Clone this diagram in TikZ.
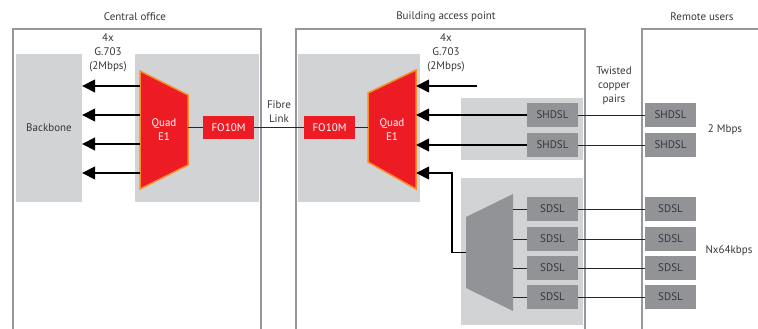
\documentclass[tikz,border=0pt]{standalone}
\usepackage{fontspec}
\setmainfont{PT Sans}
\usetikzlibrary{positioning,arrows.meta}

\definecolor{panelgray}{RGB}{210,211,213}
\definecolor{framegray}{RGB}{150,151,156}
\definecolor{boxgray}{RGB}{146,147,151}
\definecolor{textgray}{RGB}{55,55,58}
\definecolor{e1red}{RGB}{237,28,36}
\definecolor{e1orange}{RGB}{247,140,40}

\begin{document}
\begin{tikzpicture}[
    x=1pt, y=-1pt,
    font=\fontsize{11}{14}\selectfont,
 frame/.style = {draw=framegray, line width=2pt},
 panel/.style = {fill=panelgray},
mylabel/.style = {align=center, text=textgray, inner sep=0pt},
redbox/.style = {fill=e1red, text=white, inner sep=0pt,
        minimum width=51pt, minimum height=23pt},
dslbox/.style = {fill=boxgray, text=textgray, inner sep=0pt,
        minimum width=51pt, minimum height=24pt},
  quad/.style = {fill=e1red, draw=e1orange, line width=1.5pt},
quadtext/.style = {align=center, text=white, inner sep=0pt},
  wire/.style = {line width=1pt, draw=black!85},
 arrow/.style = {line width=1.5pt, -{Triangle[length=13pt,width=13pt]}}
                    ]
\useasboundingbox (0,0) rectangle (758,329);
% titles
\node (co)  [mylabel] at (135,17) {Central office};
\node (bap) [mylabel] at (446,17) {Building access point};
\node (ru)  [mylabel] at (702,17) {Remote users};
% the three sites
\draw[frame] (13,329) |- (261,29) -- (261,329);
\draw[frame] (296,329) |- (585,29) -- (585,329);
\draw[frame] (642,329) |- (760,29);
% grey panels
\node (bb) [panel, minimum width=66pt, minimum height=148pt, text=textgray]
        at (49,128) {Backbone};
\fill[panel] (135,54) rectangle (259,202);
\fill[panel] (298,54) rectangle (420,202);
\fill[panel] (461,98) rectangle (583,160);
\fill[panel] (461,178) rectangle (583,325);
% the two Quad E1 multiplexers
\filldraw[quad] (140,71) -- (188,95) -- (188,165) -- (140,189) -- cycle;
\node (qa) [quadtext, minimum width=48pt, minimum height=118pt]
        at (164,130) {Quad\\E1};
\filldraw[quad] (368,93) -- (416,70) -- (416,189) -- (368,162) -- cycle;
\node (qb) [quadtext, minimum width=48pt, minimum height=119pt]
        at (392,129.5) {Quad\\E1};
% fibre modems
\node (fa) [redbox] at (228.5,127.5) {FO10M};
\node (fb) [redbox] at (329.5,127.5) {FO10M};
\draw[wire] (qa.east |- fa) -- (fa);
\draw[wire] (fb) -- (qb.west |- fb);
\draw[wire] (fa) -- (fb) node[mylabel, midway, above=5pt] {Fibre\\Link};
% G.703 lines to the backbone
\node (ga) [mylabel] at (108,53) {4x\\G.703\\(2Mbps)};
\foreach \y in {86,115,144,173}
    \draw[arrow] (qa.west |- 0,\y) -- (bb.east |- 0,\y);
% SHDSL links
\node (gb) [mylabel] at (446,53) {4x\\G.703\\(2Mbps)};
\node (hb1) [dslbox] at (552.5,115) {SHDSL};
\node (hb2) [dslbox] at (552.5,145) {SHDSL};
\node (hr1) [dslbox] at (670.5,115) {SHDSL};
\node (hr2) [dslbox] at (670.5,145) {SHDSL};
\coordinate (free) at (477,86);
\draw[arrow] (free) -- (qb.east |- free);
\foreach \i in {1,2} {
    \draw[arrow] (hb\i) -- (qb.east |- hb\i);
    \draw[wire] (hb\i) -- (hr\i);
}
\node (tw) [mylabel] at (614,86) {Twisted\\copper\\pairs};
\node (mb) [mylabel] at (725,130) {2 Mbps};
% SDSL links through the grey multiplexer
\fill[boxgray] (466,217) -- (513,194) -- (513,311) -- (466,288) -- cycle;
\node (mux) [inner sep=0pt, minimum width=47pt, minimum height=117pt]
        at (489.5,252.5) {};
\draw[arrow] (mux.west) -- ++(-14,0) |- (qb.east |- 0,173);
\foreach \i/\y in {1/209,2/239,3/268,4/297} {
    \node (db\i) [dslbox] at (552.5,\y) {SDSL};
    \node (dr\i) [dslbox] at (670.5,\y) {SDSL};
    \draw[wire] (mux.east |- db\i) -- (db\i);
    \draw[wire] (db\i) -- (dr\i);
}
\node (nx) [mylabel] at (729,251) {Nx64kbps};
\end{tikzpicture}
\end{document}
